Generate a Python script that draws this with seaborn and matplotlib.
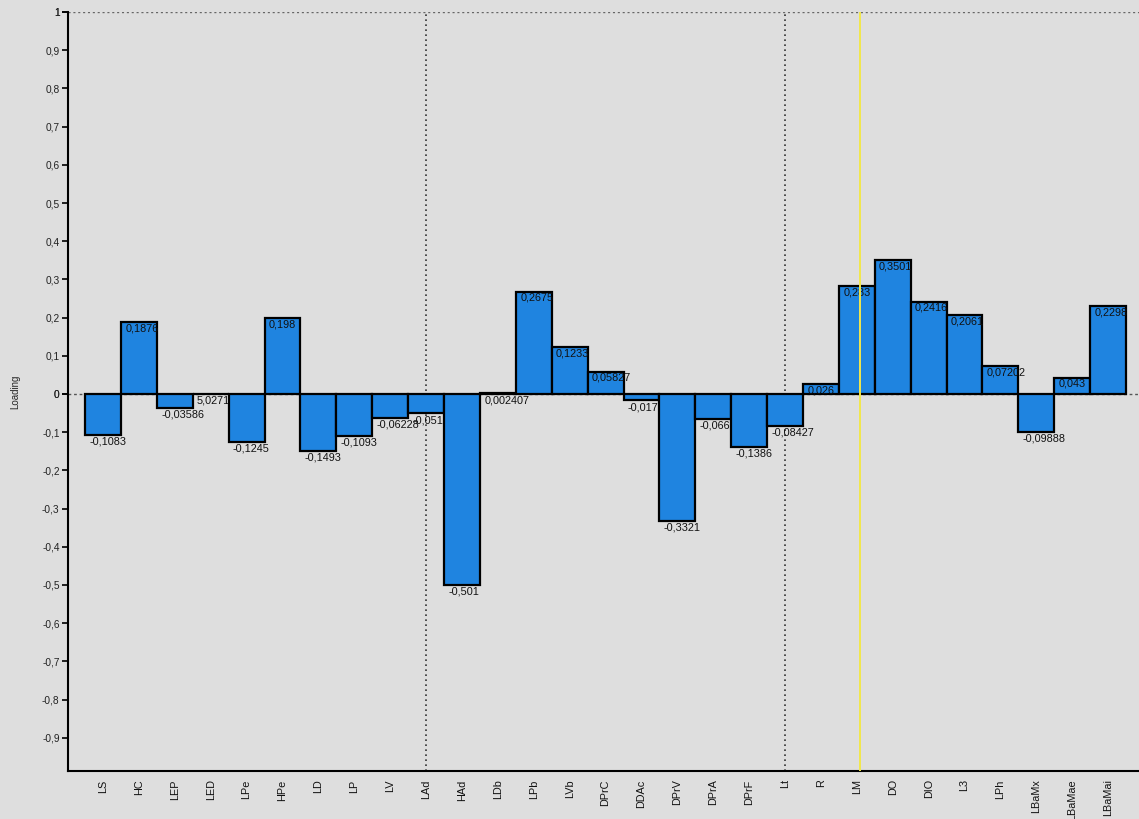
import matplotlib
matplotlib.use("Agg")
import matplotlib.pyplot as plt
import numpy as np
import pandas as pd
import seaborn as sns

# loadings per variable
CATEGORIES = ["LS", "HC", "LEP", "LED", "LPe", "HPe", "LD", "LP", "LV", "LAd",
              "HAd", "LDb", "LPb", "LVb", "DPrC", "DDAc", "DPrV", "DPrA", "DPrF", "Lt",
              "R", "LM", "DO", "DIO", "L3", "LPh", "LBaMx", "LBaMae", "LBaMai"]
LOADINGS = [-0.1083, 0.1876, -0.03586, 5.0271e-05, -0.1245, 0.198, -0.1493, -0.1093,
            -0.06228, -0.051, -0.501, 0.002407, 0.2675, 0.1233, 0.05827, -0.017,
            -0.3321, -0.066, -0.1386, -0.08427, 0.026, 0.283, 0.3501, 0.2416, 0.2061,
            0.07202, -0.09888, 0.043, 0.2298]
DIVIDERS = ["LAd", "Lt"]      # dotted group separators
HIGHLIGHT = "LM"              # yellow marker line
YTICKS = [round(v, 1) for v in np.arange(-0.9, 1.01, 0.1)]

BG = "#dedede"
BAR = "#1f84e0"

sns.set_style("white")
plt.rcParams["font.family"] = ["Liberation Sans", "DejaVu Sans"]

df = pd.DataFrame({"var": CATEGORIES, "loading": LOADINGS})

fig = plt.figure(figsize=(11.39, 8.19), dpi=100, facecolor=BG)
ax = fig.add_axes([0.0597, 0.0586, 0.9403, 0.9267], facecolor=BG)

sns.barplot(data=df, x="var", y="loading", color=BAR, saturation=1,
            edgecolor="black", linewidth=1.6, width=1.0, ax=ax)

# bars and their labels drawn one after the other, so later bars cover earlier labels
for i, (p, v) in enumerate(zip(ax.patches, LOADINGS)):
    p.set_zorder(3 + 2 * i)
    txt = str(v).replace(".", ",").replace("e", "E")
    x0 = p.get_x() + 0.12
    y0 = v - 0.003 if v > 0.01 else min(v, 0) - 0.004
    ax.text(x0, y0, txt, ha="left", va="top", fontsize=7.8,
            color="#111111", zorder=4 + 2 * i)

ax.axhline(0, color="#555555", ls=(0, (2, 2)), lw=1.0, zorder=2)
ax.axhline(1, color="#666666", ls=(0, (1.5, 2)), lw=1.0, zorder=2)
for name in DIVIDERS:
    ax.axvline(CATEGORIES.index(name), color="#333333", ls=(0, (1, 2)), lw=1.2, zorder=2)
ax.axvline(CATEGORIES.index(HIGHLIGHT) + 0.1, color="#f2e84a", lw=1.4, zorder=200)

ax.set_xlim(-0.975, 28.86)
ax.set_ylim(-0.987, 1.0)
ticks = YTICKS + [0.0, 1.0]
ax.set_yticks(ticks)
ax.set_yticklabels([("0" if abs(t) < 1e-9 else ("1" if t == 1 else f"{t:.1f}".replace(".", ",")))
                    for t in ticks])
ax.tick_params(axis="y", direction="out", length=4, width=1.2, labelsize=7.3, pad=2,
               left=True, color="black", labelcolor="#222222")
ax.tick_params(axis="x", length=0, labelsize=7.8, pad=6, rotation=90, labelcolor="#111111")
ax.set_xlabel("")
ax.set_ylabel("Loading", fontsize=7, labelpad=16)

for side in ["top", "right"]:
    ax.spines[side].set_visible(False)
for side in ["left", "bottom"]:
    ax.spines[side].set_color("black")
    ax.spines[side].set_linewidth(1.5)

fig.savefig("out.png", dpi=100, facecolor=BG)
